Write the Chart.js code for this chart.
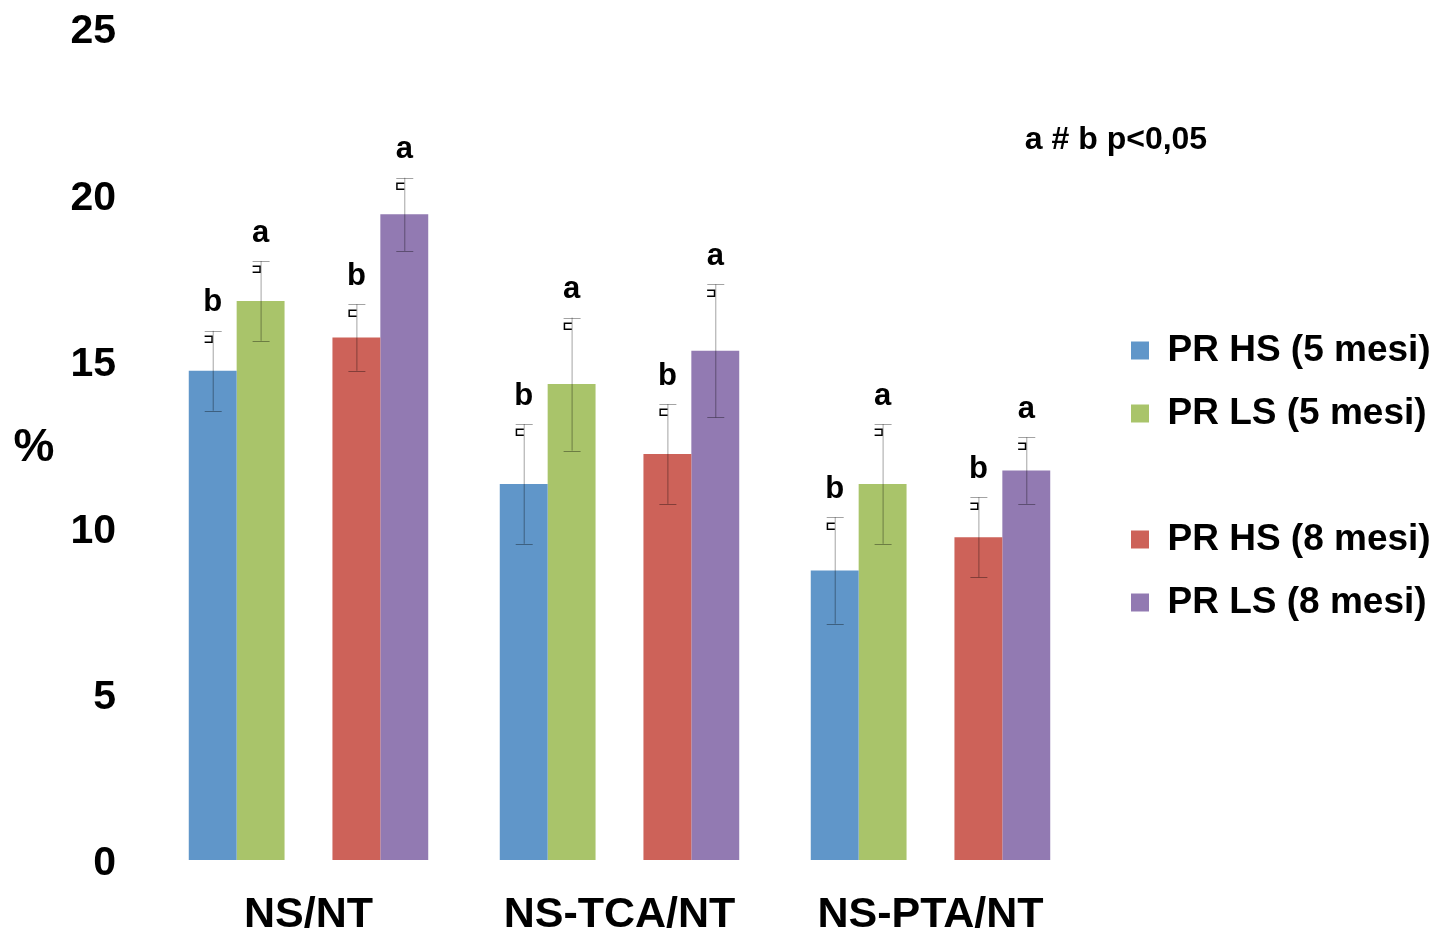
<!DOCTYPE html>
<html>
<head>
<meta charset="utf-8">
<script src="https://cdn.jsdelivr.net/npm/chart.js@4.4.1/dist/chart.umd.min.js"></script>
<style>
  html, body { margin: 0; padding: 0; background: #ffffff; }
  #wrap { width: 1435px; height: 932px; }
</style>
</head>
<body>
<div id="wrap"><canvas id="c"></canvas></div>
<script>
// Categories and series
const categories = ['NS/NT', 'NS-TCA/NT', 'NS-PTA/NT'];
const seriesNames = ['PR HS (5 mesi)', 'PR LS (5 mesi)', 'PR HS (8 mesi)', 'PR LS (8 mesi)'];

// Mean values (%)
const hs5 = [14.7, 11.3, 8.7];
const ls5 = [16.8, 14.3, 11.3];
const hs8 = [15.7, 12.2, 9.7];
const ls8 = [19.4, 15.3, 11.7];

// Error bar half-lengths
const hs5Err = [1.2, 1.8, 1.6];
const ls5Err = [1.2, 2.0, 1.8];
const hs8Err = [1.0, 1.5, 1.2];
const ls8Err = [1.1, 2.0, 1.0];

// Significance letters above each bar
const hs5Sig = ['b', 'b', 'b'];
const ls5Sig = ['a', 'a', 'a'];
const hs8Sig = ['b', 'b', 'b'];
const ls8Sig = ['a', 'a', 'a'];

// Small bracket marks next to each error cap
const hs5Mark = ['\u2290', '\u228F', '\u228F'];
const ls5Mark = ['\u2290', '\u228F', '\u2290'];
const hs8Mark = ['\u228F', '\u228F', '\u2290'];
const ls8Mark = ['\u228F', '\u2290', '\u2290'];

// Axis
const yTicks = [0, 5, 10, 15, 20, 25];
const axisTitle = '%';
const note = 'a # b p<0,05';

const colors = ['#6096C9', '#A9C46A', '#CD6259', '#927AB2'];
const FONT = "'Liberation Sans', Arial, Helvetica, sans-serif";

const values = [hs5, ls5, hs8, ls8];
const errors = [hs5Err, ls5Err, hs8Err, ls8Err];
const sigs = [hs5Sig, ls5Sig, hs8Sig, ls8Sig];
const marks = [hs5Mark, ls5Mark, hs8Mark, ls8Mark];

function seriesDataset(i) {
  return {
    label: seriesNames[i],
    data: values[i],
    backgroundColor: colors[i],
    borderWidth: 0,
    errs: errors[i],
    sig: sigs[i],
    mark: marks[i]
  };
}

// Empty slot between the 5-month and 8-month pairs
const spacer = {
  label: '',
  data: categories.map(() => 0),
  backgroundColor: 'rgba(0,0,0,0)',
  borderColor: 'rgba(0,0,0,0)',
  borderWidth: 0,
  spacer: true
};

const datasets = [seriesDataset(0), seriesDataset(1), spacer, seriesDataset(2), seriesDataset(3)];

// Error bars, significance letters and bracket marks
const errorBars = {
  id: 'errorBars',
  afterDatasetsDraw(chart) {
    const ctx = chart.ctx;
    const y = chart.scales.y;
    chart.data.datasets.forEach((ds, di) => {
      if (ds.spacer) return;
      const meta = chart.getDatasetMeta(di);
      meta.data.forEach((bar, i) => {
        const v = ds.data[i], e = ds.errs[i];
        const x = bar.x;
        const yTop = y.getPixelForValue(v + e);
        const yBot = y.getPixelForValue(v - e);
        ctx.save();
        ctx.strokeStyle = 'rgba(0,0,0,0.36)';
        ctx.lineWidth = 1;
        ctx.beginPath();
        ctx.moveTo(x + 0.5, yTop); ctx.lineTo(x + 0.5, yBot);
        ctx.moveTo(x - 8, Math.round(yTop) + 0.5); ctx.lineTo(x + 9, Math.round(yTop) + 0.5);
        ctx.moveTo(x - 8, Math.round(yBot) + 0.5); ctx.lineTo(x + 9, Math.round(yBot) + 0.5);
        ctx.stroke();

        ctx.fillStyle = '#000';
        ctx.textAlign = 'center';
        ctx.textBaseline = 'middle';
        ctx.font = "bold 13px 'DejaVu Sans', sans-serif";
        ctx.fillText(ds.mark[i], x - 4, yTop + 9);

        ctx.font = 'bold 31px ' + FONT;
        ctx.fillText(ds.sig[i], x, yTop - 28);
        ctx.restore();
      });
    });
  }
};

// Axis title and note text
const annotations = {
  id: 'annotations',
  afterDraw(chart) {
    const ctx = chart.ctx;
    ctx.save();
    ctx.fillStyle = '#000';
    ctx.textAlign = 'center';
    ctx.textBaseline = 'middle';
    ctx.font = 'bold 46px ' + FONT;
    ctx.fillText(axisTitle, 34, 448);
    ctx.font = 'bold 32px ' + FONT;
    ctx.fillText(note, 1116, 140);
    ctx.restore();
  }
};

// Legend placement: fixed width so the plot ends where wanted, items placed in the right column
const legendPlacement = {
  id: 'legendPlacement',
  beforeLayout(chart) {
    const lg = chart.legend;
    if (lg && !lg._fixedFit) {
      const orig = lg.fit.bind(lg);
      lg.fit = function () { orig(); this.width = 349; };
      lg._fixedFit = true;
    }
  },
  afterLayout(chart) {
    const lg = chart.legend;
    if (!lg) return;
    lg.left = 1105;
    lg.right = 1435;
    lg.top = 306;
    lg.bottom = 932;
  }
};

new Chart(document.getElementById('c'), {
  type: 'bar',
  data: { labels: categories, datasets },
  options: {
    responsive: true,
    maintainAspectRatio: false,
    animation: false,
    layout: { padding: { top: 28, left: 0, right: 0, bottom: 0 } },
    datasets: { bar: { barPercentage: 1.0, categoryPercentage: 0.77 } },
    plugins: {
      legend: {
        position: 'right',
        align: 'start',
        labels: {
          color: '#000',
          font: { family: FONT, size: 37, weight: 'bold', lineHeight: 1 },
          boxWidth: 18,
          boxHeight: 18,
          padding: 26
        }
      },
      tooltip: { enabled: false }
    },
    scales: {
      x: {
        grid: { display: false, drawTicks: false },
        border: { display: false },
        ticks: {
          color: '#000',
          font: { family: FONT, size: 43, weight: 'bold', lineHeight: 1 },
          padding: 34,
          maxRotation: 0,
          autoSkip: false
        },
        afterFit(scale) { scale.height = 72; scale.paddingLeft = 0; scale.paddingRight = 0; }
      },
      y: {
        min: 0,
        max: 25,
        afterBuildTicks(scale) { scale.ticks = yTicks.map(v => ({ value: v })); },
        grid: { display: false, drawTicks: false },
        border: { display: false },
        ticks: {
          color: '#000',
          font: { family: FONT, size: 41, weight: 'bold' },
          padding: 37,
          labelOffset: 4
        },
        afterFit(scale) { scale.width = 153; scale.paddingTop = 0; scale.paddingBottom = 0; }
      }
    }
  },
  plugins: [errorBars, annotations, legendPlacement]
});
</script>
</body>
</html>
